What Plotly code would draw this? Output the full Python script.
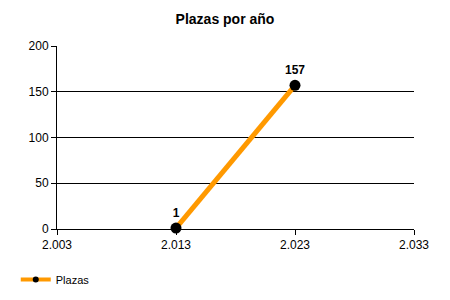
import plotly.graph_objects as go

years = [2013, 2023]
plazas = [1, 157]
x_ticks = [2003, 2013, 2023, 2033]
y_ticks = [0, 50, 100, 150, 200]

fig = go.Figure()
fig.add_trace(go.Scatter(
    x=years, y=plazas, name="Plazas", mode="lines+markers+text",
    line=dict(color="#FF9900", width=5),
    marker=dict(color="black", size=11),
    text=[str(v) for v in plazas], textposition="top center",
    textfont=dict(family="Liberation Sans, Arial", size=12, color="black", weight="bold"),
    cliponaxis=False, showlegend=False,
))
# legend entry (small marker like the reference)
fig.add_trace(go.Scatter(
    x=[None], y=[None], name="Plazas", mode="lines+markers",
    line=dict(color="#FF9900", width=4),
    marker=dict(color="black", size=6),
    showlegend=True,
))

fig.update_layout(
    width=450, height=300,
    margin=dict(l=57, r=36, t=46, b=71, autoexpand=False),
    paper_bgcolor="white", plot_bgcolor="white",
    separators=",.",
    font=dict(family="Liberation Sans, Arial", size=12, color="black"),
    title=dict(text="<b>Plazas por año</b>", x=0.5, xanchor="center", y=0.935, yanchor="middle",
               xref="container", yref="container",
               font=dict(size=14, color="black")),
    showlegend=True,
    legend=dict(x=0.035, y=0.02, xref="container", yref="container", xanchor="left", yanchor="bottom",
                font=dict(size=11), itemwidth=30, bgcolor="rgba(0,0,0,0)"),
    xaxis=dict(range=[2003, 2033], tickvals=x_ticks, tickformat=",d", automargin=False,
               showgrid=False, zeroline=False, showline=True, linecolor="black", linewidth=1,
               ticks="outside", ticklen=5, tickcolor="black", tickfont=dict(size=12)),
    yaxis=dict(range=[0, 200], tickvals=y_ticks, showgrid=True, gridcolor="black", gridwidth=1,
               automargin=False,
               zeroline=False, showline=True, linecolor="black", linewidth=1,
               ticks="outside", ticklen=5, tickcolor="black", tickfont=dict(size=12)),
)

fig.write_html("out.html")
